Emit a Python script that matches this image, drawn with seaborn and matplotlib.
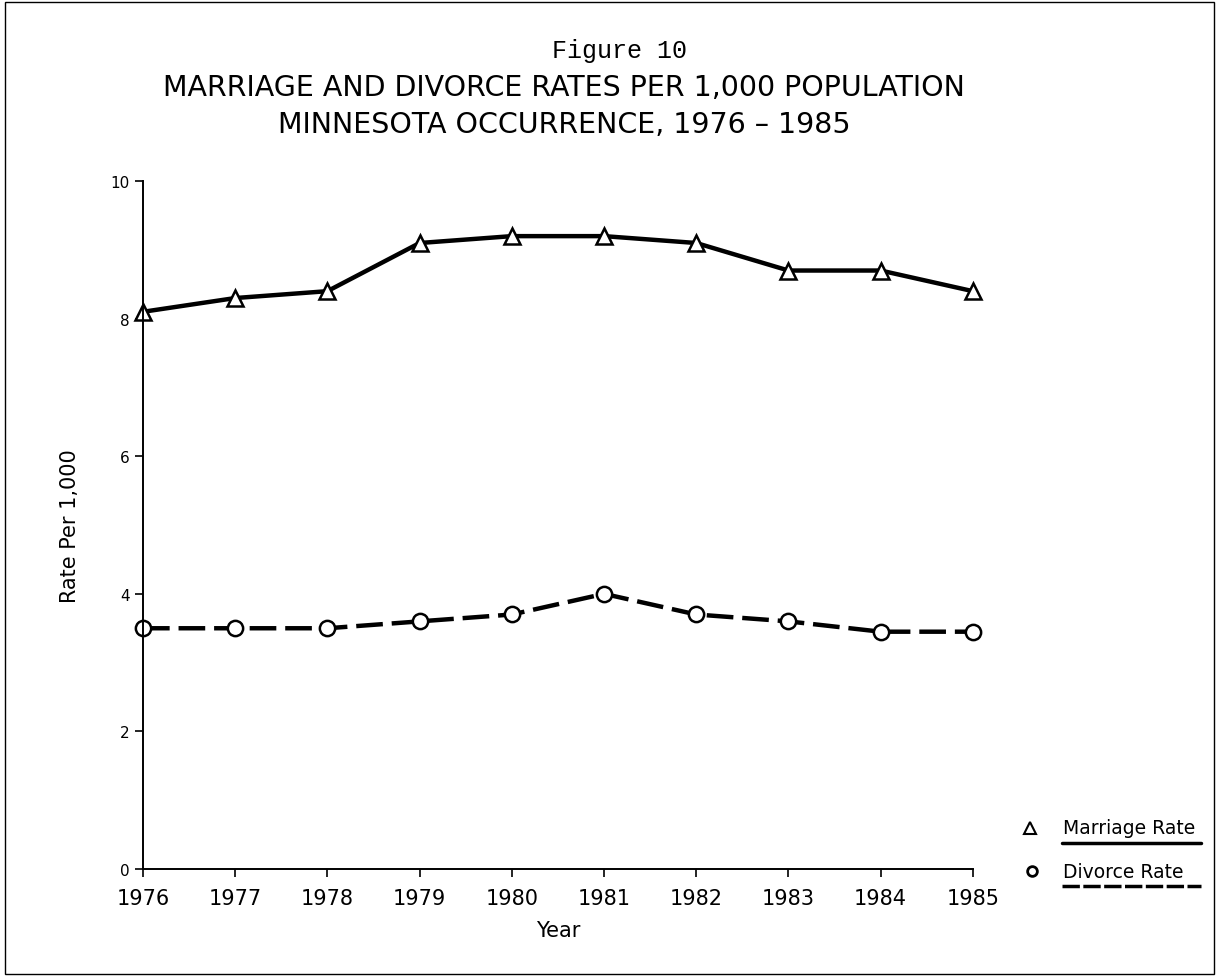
import matplotlib
matplotlib.use("Agg")
import matplotlib.pyplot as plt
from matplotlib.lines import Line2D
from matplotlib.patches import Rectangle
import pandas as pd
import seaborn as sns

# data
years = [1976, 1977, 1978, 1979, 1980, 1981, 1982, 1983, 1984, 1985]
marriage_rate = [8.1, 8.3, 8.4, 9.1, 9.2, 9.2, 9.1, 8.7, 8.7, 8.4]
divorce_rate = [3.5, 3.5, 3.5, 3.6, 3.7, 4.0, 3.7, 3.6, 3.45, 3.45]
y_ticks = [0, 2, 4, 6, 8, 10]

df = pd.DataFrame({"Year": years, "Marriage Rate": marriage_rate, "Divorce Rate": divorce_rate})

sns.set_style("white")
plt.rcParams['font.family'] = ['DejaVu Sans']
plt.rcParams['text.color'] = 'black'
plt.rcParams['axes.labelcolor'] = 'black'
plt.rcParams['xtick.color'] = 'black'
plt.rcParams['ytick.color'] = 'black'

fig = plt.figure(figsize=(12.19, 9.79), dpi=100)
ax = fig.add_axes([0.1173, 0.1113, 0.6808, 0.7027])

# marriage: solid line, open triangles
sns.lineplot(data=df, x="Year", y="Marriage Rate", ax=ax, color="black", linewidth=3.2,
             marker="^", markersize=12, markerfacecolor="white", markeredgecolor="black",
             markeredgewidth=1.8, clip_on=False)
# divorce: dashed line, open circles
sns.lineplot(data=df, x="Year", y="Divorce Rate", ax=ax, color="black", linewidth=3.2,
             linestyle=(0, (6, 2)), marker="o", markersize=11, markerfacecolor="white",
             markeredgecolor="black", markeredgewidth=1.8, clip_on=False)

ax.set_xlim(years[0], years[-1])
ax.set_ylim(0, 10)
ax.set_xticks(years)
ax.set_xticklabels([str(y) for y in years], fontsize=15)
ax.set_yticks(y_ticks)
ax.set_yticklabels([str(t) for t in y_ticks], fontsize=11)
ax.tick_params(axis="both", direction="out", length=6, width=1.2, color="black", left=True, bottom=True)
ax.tick_params(axis="x", pad=8)

sns.despine(ax=ax)
for side in ["left", "bottom"]:
    ax.spines[side].set_color("black")
    ax.spines[side].set_linewidth(1.4)

ax.set_xlabel("Year", fontsize=15, labelpad=8)
ax.set_ylabel("Rate Per 1,000", fontsize=15, labelpad=22)

# titles
fig.text(0.508, 0.948, "Figure 10", ha="center", va="center", fontsize=18,
         family=["Liberation Mono", "DejaVu Sans Mono"])
fig.text(0.463, 0.910, "MARRIAGE AND DIVORCE RATES PER 1,000 POPULATION", ha="center",
         va="center", fontsize=20.5)
fig.text(0.463, 0.872, "MINNESOTA OCCURRENCE, 1976 \u2013 1985", ha="center",
         va="center", fontsize=20.5)

# legend drawn by hand with underlined labels
fig.add_artist(Line2D([0.845], [1 - 829 / 979], marker="^", markersize=8, markerfacecolor="white",
                      markeredgecolor="black", markeredgewidth=1.5, transform=fig.transFigure))
fig.add_artist(Line2D([0.847], [1 - 872 / 979], marker="o", markersize=7, markerfacecolor="white",
                      markeredgecolor="black", markeredgewidth=2, transform=fig.transFigure))
fig.text(0.872, 1 - 829 / 979, "Marriage Rate", ha="left", va="center", fontsize=13.5)
fig.text(0.872, 1 - 872 / 979, "Divorce Rate", ha="left", va="center", fontsize=13.5)
fig.add_artist(Line2D([0.871, 0.985], [1 - 844 / 979] * 2, color="black", linewidth=2.5,
                      transform=fig.transFigure))
fig.add_artist(Line2D([0.871, 0.985], [1 - 887 / 979] * 2, color="black", linewidth=2.5,
                      linestyle=(0, (5, 1)), transform=fig.transFigure))

# scanned page border
fig.add_artist(Rectangle((0.004, 0.004), 0.992, 0.993, fill=False, edgecolor="black",
                         linewidth=1.0, transform=fig.transFigure))

fig.savefig("out.png", dpi=100)
